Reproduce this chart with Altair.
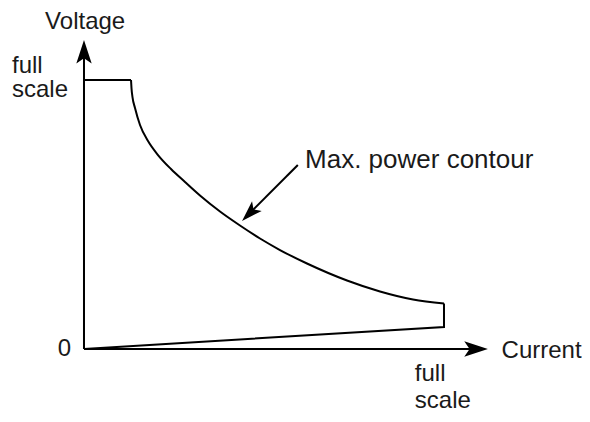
import altair as alt
import pandas as pd

# Max. power contour (current, voltage) as fractions of full scale
curve_current = [0.1306, 0.1319, 0.1347, 0.1417, 0.1556, 0.1778, 0.2056, 0.2417, 0.2806,
                 0.3222, 0.3778, 0.4333, 0.4889, 0.5444, 0.6194, 0.7306, 0.8222, 0.9139, 1.0]
curve_voltage = [1.0, 0.9703, 0.9368, 0.8959, 0.8327, 0.7732, 0.7212, 0.6691, 0.6208,
                 0.5706, 0.5111, 0.4591, 0.4108, 0.3680, 0.3178, 0.2546, 0.2138, 0.1840, 0.1691]
# straight parts of the contour: origin -> full-scale voltage -> curve start,
# and curve end -> down -> back to origin
top_current = [0.0, 0.0, 0.1306]
top_voltage = [0.0, 1.0, 1.0]
bottom_current = [1.0, 1.0, 0.0]
bottom_voltage = [0.1691, 0.082, 0.0]

# Axis extents (arrow tips)
axis_x_end = 1.122
axis_y_end = 1.149

# Annotation arrow: start -> tip
annot_start = (0.594, 0.684)
annot_tip = (0.439, 0.476)

label_texts = ["Voltage", "full", "scale", "0", "Current", "full", "scale", "Max. power contour"]
label_x = [-0.108, -0.200, -0.200, -0.036, 1.160, 0.919, 0.919, 0.614]
label_y = [1.190, 1.026, 0.935, -0.026, -0.034, -0.119, -0.219, 0.673]
label_align = ["left", "left", "left", "right", "left", "left", "left", "left"]
label_size = [24, 24, 24, 24, 24, 24, 24, 26]

W, H = 574, 406
X_DOM = [-0.2111, -0.2111 + W / 360]
Y_DOM = [1.2677 - H / 269, 1.2677]

xs = alt.Scale(domain=X_DOM, zero=False, nice=False)
ys = alt.Scale(domain=Y_DOM, zero=False, nice=False)


def path_layer(cur, vol, interp):
    df = pd.DataFrame({"i": cur, "v": vol, "o": list(range(len(cur)))})
    return alt.Chart(df).mark_line(color="black", strokeWidth=2, strokeJoin="miter",
                                   interpolate=interp).encode(
        x=alt.X("i:Q", scale=xs, axis=None),
        y=alt.Y("v:Q", scale=ys, axis=None),
        order="o:Q",
    )


curve = path_layer(curve_current, curve_voltage, "monotone")
top = path_layer(top_current, top_voltage, "linear")
bottom = path_layer(bottom_current, bottom_voltage, "linear")

lines_df = pd.DataFrame({
    "x": [0.0, 0.0, annot_start[0]],
    "y": [0.0, 0.0, annot_start[1]],
    "x2": [0.0, axis_x_end - 0.03, annot_tip[0] + 0.02],
    "y2": [axis_y_end - 0.04, 0.0, annot_tip[1] + 0.027],
})
lines = alt.Chart(lines_df).mark_rule(color="black", strokeWidth=2).encode(
    x=alt.X("x:Q", scale=xs, axis=None), y=alt.Y("y:Q", scale=ys, axis=None),
    x2="x2:Q", y2="y2:Q",
)

arrow_path = "M0,0 L-0.65,2 L0,1.55 L0.65,2 Z"
heads_df = pd.DataFrame({
    "x": [0.0, axis_x_end, annot_tip[0]],
    "y": [axis_y_end, 0.0, annot_tip[1]],
    "ang": [0, 90, 225],
    "sz": [560, 560, 440],
})
heads = alt.Chart(heads_df).mark_point(shape=arrow_path, filled=True, color="black",
                                       opacity=1, strokeWidth=0).encode(
    x=alt.X("x:Q", scale=xs, axis=None), y=alt.Y("y:Q", scale=ys, axis=None),
    angle=alt.Angle("ang:Q", scale=None),
    size=alt.Size("sz:Q", scale=None),
)

labels_df = pd.DataFrame({"t": label_texts, "x": label_x, "y": label_y,
                          "al": label_align, "fs": label_size})
text_layers = []
for al in ["left", "right"]:
    for fs in sorted(set(label_size)):
        sub = labels_df[(labels_df.al == al) & (labels_df.fs == fs)]
        if len(sub) == 0:
            continue
        text_layers.append(
            alt.Chart(sub).mark_text(align=al, baseline="alphabetic", font="Liberation Sans",
                                     fontSize=fs, color="#1a1a1a").encode(
                x=alt.X("x:Q", scale=xs, axis=None), y=alt.Y("y:Q", scale=ys, axis=None),
                text="t:N",
            )
        )

chart = alt.layer(top, curve, bottom, lines, heads, *text_layers).properties(
    width=W, height=H, padding=0, autosize=alt.AutoSizeParams(type="none"),
    background="white",
).configure_view(stroke=None)

chart.save("out.html", embed_options={"renderer": "svg", "actions": False})
